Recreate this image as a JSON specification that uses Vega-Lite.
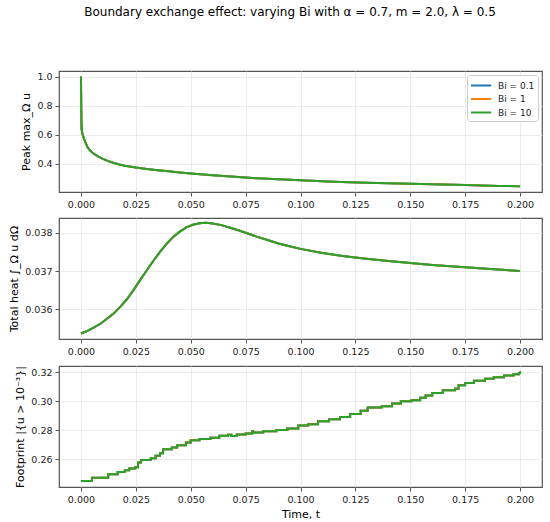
{
  "$schema": "https://vega.github.io/schema/vega-lite/v6.json",
  "padding": {"left": 8, "top": 6, "right": 5, "bottom": 5},
  "background": "white",
  "title": {"text": "Boundary exchange effect: varying Bi with α = 0.7, m = 2.0, λ = 0.5", "fontSize": 12, "font": "DejaVu Sans", "fontWeight": "normal", "anchor": "start", "frame": "bounds", "dx": 76, "offset": 51, "color": "#000"},
  "config": {
    "font": "DejaVu Sans",
    "view": {"stroke": "#555", "strokeWidth": 1.2},
    "axis": {"domain": false, "tickColor": "#555", "tickSize": 4, "labelFontSize": 9.5, "labelColor": "#222", "labelPadding": 3, "titleFontSize": 11, "titleFontWeight": "normal", "titleColor": "#000", "gridColor": "#e6e6e6", "gridWidth": 0.8, "titlePadding": 5},
    "legend": {"labelFontSize": 9, "labelColor": "#222"}
  },
  "datasets": {
    "peak": [
      {"t": 0, "Bi01": 1.0, "Bi1": 1.0, "Bi10": 1.0},
      {"t": 0.0001, "Bi01": 0.85, "Bi1": 0.85, "Bi10": 0.85},
      {"t": 0.0002, "Bi01": 0.70, "Bi1": 0.70, "Bi10": 0.70},
      {"t": 0.0003, "Bi01": 0.63, "Bi1": 0.63, "Bi10": 0.63},
      {"t": 0.0004, "Bi01": 0.67, "Bi1": 0.67, "Bi10": 0.67},
      {"t": 0.0005, "Bi01": 0.62, "Bi1": 0.62, "Bi10": 0.62},
      {"t": 0.0008, "Bi01": 0.60, "Bi1": 0.60, "Bi10": 0.60},
      {"t": 0.0012, "Bi01": 0.58, "Bi1": 0.58, "Bi10": 0.58},
      {"t": 0.002, "Bi01": 0.55, "Bi1": 0.55, "Bi10": 0.55},
      {"t": 0.003, "Bi01": 0.515, "Bi1": 0.515, "Bi10": 0.515},
      {"t": 0.004, "Bi01": 0.495, "Bi1": 0.495, "Bi10": 0.495},
      {"t": 0.005, "Bi01": 0.48, "Bi1": 0.48, "Bi10": 0.48},
      {"t": 0.0065, "Bi01": 0.463, "Bi1": 0.463, "Bi10": 0.463},
      {"t": 0.008, "Bi01": 0.45, "Bi1": 0.45, "Bi10": 0.45},
      {"t": 0.010, "Bi01": 0.434, "Bi1": 0.434, "Bi10": 0.434},
      {"t": 0.0125, "Bi01": 0.419, "Bi1": 0.419, "Bi10": 0.419},
      {"t": 0.015, "Bi01": 0.406, "Bi1": 0.406, "Bi10": 0.406},
      {"t": 0.0175, "Bi01": 0.396, "Bi1": 0.396, "Bi10": 0.396},
      {"t": 0.020, "Bi01": 0.388, "Bi1": 0.388, "Bi10": 0.388},
      {"t": 0.025, "Bi01": 0.375, "Bi1": 0.375, "Bi10": 0.375},
      {"t": 0.030, "Bi01": 0.365, "Bi1": 0.365, "Bi10": 0.365},
      {"t": 0.035, "Bi01": 0.357, "Bi1": 0.357, "Bi10": 0.357},
      {"t": 0.040, "Bi01": 0.349, "Bi1": 0.349, "Bi10": 0.349},
      {"t": 0.045, "Bi01": 0.341, "Bi1": 0.341, "Bi10": 0.341},
      {"t": 0.050, "Bi01": 0.334, "Bi1": 0.334, "Bi10": 0.334},
      {"t": 0.060, "Bi01": 0.322, "Bi1": 0.322, "Bi10": 0.322},
      {"t": 0.070, "Bi01": 0.312, "Bi1": 0.312, "Bi10": 0.312},
      {"t": 0.080, "Bi01": 0.302, "Bi1": 0.302, "Bi10": 0.302},
      {"t": 0.090, "Bi01": 0.294, "Bi1": 0.294, "Bi10": 0.294},
      {"t": 0.100, "Bi01": 0.287, "Bi1": 0.287, "Bi10": 0.287},
      {"t": 0.115, "Bi01": 0.278, "Bi1": 0.278, "Bi10": 0.278},
      {"t": 0.130, "Bi01": 0.271, "Bi1": 0.271, "Bi10": 0.271},
      {"t": 0.145, "Bi01": 0.265, "Bi1": 0.265, "Bi10": 0.265},
      {"t": 0.160, "Bi01": 0.260, "Bi1": 0.260, "Bi10": 0.260},
      {"t": 0.175, "Bi01": 0.255, "Bi1": 0.255, "Bi10": 0.255},
      {"t": 0.190, "Bi01": 0.249, "Bi1": 0.249, "Bi10": 0.249},
      {"t": 0.200, "Bi01": 0.246, "Bi1": 0.246, "Bi10": 0.246}
    ],
    "heat": [
      {"t": 0, "Bi01": 0.03537, "Bi1": 0.03537, "Bi10": 0.03537},
      {"t": 0.003, "Bi01": 0.03544, "Bi1": 0.03544, "Bi10": 0.03544},
      {"t": 0.006, "Bi01": 0.03553, "Bi1": 0.03553, "Bi10": 0.03553},
      {"t": 0.009, "Bi01": 0.03563, "Bi1": 0.03563, "Bi10": 0.03563},
      {"t": 0.012, "Bi01": 0.03576, "Bi1": 0.03576, "Bi10": 0.03576},
      {"t": 0.015, "Bi01": 0.03590, "Bi1": 0.03590, "Bi10": 0.03590},
      {"t": 0.018, "Bi01": 0.03607, "Bi1": 0.03607, "Bi10": 0.03607},
      {"t": 0.021, "Bi01": 0.03627, "Bi1": 0.03627, "Bi10": 0.03627},
      {"t": 0.024, "Bi01": 0.03651, "Bi1": 0.03651, "Bi10": 0.03651},
      {"t": 0.027, "Bi01": 0.03677, "Bi1": 0.03677, "Bi10": 0.03677},
      {"t": 0.030, "Bi01": 0.03702, "Bi1": 0.03702, "Bi10": 0.03702},
      {"t": 0.033, "Bi01": 0.03727, "Bi1": 0.03727, "Bi10": 0.03727},
      {"t": 0.036, "Bi01": 0.03750, "Bi1": 0.03750, "Bi10": 0.03750},
      {"t": 0.039, "Bi01": 0.03771, "Bi1": 0.03771, "Bi10": 0.03771},
      {"t": 0.042, "Bi01": 0.03789, "Bi1": 0.03789, "Bi10": 0.03789},
      {"t": 0.045, "Bi01": 0.03803, "Bi1": 0.03803, "Bi10": 0.03803},
      {"t": 0.048, "Bi01": 0.03814, "Bi1": 0.03814, "Bi10": 0.03814},
      {"t": 0.051, "Bi01": 0.03821, "Bi1": 0.03821, "Bi10": 0.03821},
      {"t": 0.054, "Bi01": 0.03825, "Bi1": 0.03825, "Bi10": 0.03825},
      {"t": 0.057, "Bi01": 0.03826, "Bi1": 0.03826, "Bi10": 0.03826},
      {"t": 0.060, "Bi01": 0.03824, "Bi1": 0.03824, "Bi10": 0.03824},
      {"t": 0.064, "Bi01": 0.03820, "Bi1": 0.03820, "Bi10": 0.03820},
      {"t": 0.068, "Bi01": 0.03813, "Bi1": 0.03813, "Bi10": 0.03813},
      {"t": 0.072, "Bi01": 0.03806, "Bi1": 0.03806, "Bi10": 0.03806},
      {"t": 0.076, "Bi01": 0.03798, "Bi1": 0.03798, "Bi10": 0.03798},
      {"t": 0.080, "Bi01": 0.03790, "Bi1": 0.03790, "Bi10": 0.03790},
      {"t": 0.085, "Bi01": 0.03781, "Bi1": 0.03781, "Bi10": 0.03781},
      {"t": 0.090, "Bi01": 0.03772, "Bi1": 0.03772, "Bi10": 0.03772},
      {"t": 0.095, "Bi01": 0.03765, "Bi1": 0.03765, "Bi10": 0.03765},
      {"t": 0.100, "Bi01": 0.03758, "Bi1": 0.03758, "Bi10": 0.03758},
      {"t": 0.110, "Bi01": 0.03747, "Bi1": 0.03747, "Bi10": 0.03747},
      {"t": 0.120, "Bi01": 0.03739, "Bi1": 0.03739, "Bi10": 0.03739},
      {"t": 0.130, "Bi01": 0.03732, "Bi1": 0.03732, "Bi10": 0.03732},
      {"t": 0.140, "Bi01": 0.03726, "Bi1": 0.03726, "Bi10": 0.03726},
      {"t": 0.150, "Bi01": 0.03721, "Bi1": 0.03721, "Bi10": 0.03721},
      {"t": 0.160, "Bi01": 0.03716, "Bi1": 0.03716, "Bi10": 0.03716},
      {"t": 0.170, "Bi01": 0.03712, "Bi1": 0.03712, "Bi10": 0.03712},
      {"t": 0.180, "Bi01": 0.03708, "Bi1": 0.03708, "Bi10": 0.03708},
      {"t": 0.190, "Bi01": 0.03704, "Bi1": 0.03704, "Bi10": 0.03704},
      {"t": 0.200, "Bi01": 0.03700, "Bi1": 0.03700, "Bi10": 0.03700}
    ],
    "foot": [
      {"t": 0, "Bi01": 0.2448, "Bi1": 0.2448, "Bi10": 0.2448},
      {"t": 0.005, "Bi01": 0.2471, "Bi1": 0.2471, "Bi10": 0.2471},
      {"t": 0.0124, "Bi01": 0.2495, "Bi1": 0.2495, "Bi10": 0.2495},
      {"t": 0.0167, "Bi01": 0.2510, "Bi1": 0.2510, "Bi10": 0.2510},
      {"t": 0.020, "Bi01": 0.2523, "Bi1": 0.2523, "Bi10": 0.2523},
      {"t": 0.022, "Bi01": 0.2534, "Bi1": 0.2534, "Bi10": 0.2534},
      {"t": 0.0247, "Bi01": 0.2543, "Bi1": 0.2543, "Bi10": 0.2543},
      {"t": 0.026, "Bi01": 0.2577, "Bi1": 0.2577, "Bi10": 0.2577},
      {"t": 0.0274, "Bi01": 0.2593, "Bi1": 0.2593, "Bi10": 0.2593},
      {"t": 0.0318, "Bi01": 0.2605, "Bi1": 0.2605, "Bi10": 0.2605},
      {"t": 0.034, "Bi01": 0.2623, "Bi1": 0.2623, "Bi10": 0.2623},
      {"t": 0.036, "Bi01": 0.2640, "Bi1": 0.2640, "Bi10": 0.2640},
      {"t": 0.0374, "Bi01": 0.2668, "Bi1": 0.2668, "Bi10": 0.2668},
      {"t": 0.0414, "Bi01": 0.2680, "Bi1": 0.2680, "Bi10": 0.2680},
      {"t": 0.0438, "Bi01": 0.2696, "Bi1": 0.2696, "Bi10": 0.2696},
      {"t": 0.0478, "Bi01": 0.2714, "Bi1": 0.2714, "Bi10": 0.2714},
      {"t": 0.050, "Bi01": 0.2730, "Bi1": 0.2730, "Bi10": 0.2730},
      {"t": 0.054, "Bi01": 0.2739, "Bi1": 0.2739, "Bi10": 0.2739},
      {"t": 0.059, "Bi01": 0.2748, "Bi1": 0.2748, "Bi10": 0.2748},
      {"t": 0.063, "Bi01": 0.2761, "Bi1": 0.2761, "Bi10": 0.2761},
      {"t": 0.067, "Bi01": 0.2768, "Bi1": 0.2768, "Bi10": 0.2768},
      {"t": 0.0685, "Bi01": 0.2760, "Bi1": 0.2760, "Bi10": 0.2760},
      {"t": 0.071, "Bi01": 0.2770, "Bi1": 0.2770, "Bi10": 0.2770},
      {"t": 0.075, "Bi01": 0.2777, "Bi1": 0.2777, "Bi10": 0.2777},
      {"t": 0.078, "Bi01": 0.2793, "Bi1": 0.2793, "Bi10": 0.2793},
      {"t": 0.0785, "Bi01": 0.2784, "Bi1": 0.2784, "Bi10": 0.2784},
      {"t": 0.083, "Bi01": 0.2793, "Bi1": 0.2793, "Bi10": 0.2793},
      {"t": 0.089, "Bi01": 0.2800, "Bi1": 0.2800, "Bi10": 0.2800},
      {"t": 0.094, "Bi01": 0.2811, "Bi1": 0.2811, "Bi10": 0.2811},
      {"t": 0.099, "Bi01": 0.2832, "Bi1": 0.2832, "Bi10": 0.2832},
      {"t": 0.1035, "Bi01": 0.2840, "Bi1": 0.2840, "Bi10": 0.2840},
      {"t": 0.108, "Bi01": 0.2861, "Bi1": 0.2861, "Bi10": 0.2861},
      {"t": 0.113, "Bi01": 0.2875, "Bi1": 0.2875, "Bi10": 0.2875},
      {"t": 0.118, "Bi01": 0.2890, "Bi1": 0.2890, "Bi10": 0.2890},
      {"t": 0.1226, "Bi01": 0.2911, "Bi1": 0.2911, "Bi10": 0.2911},
      {"t": 0.1274, "Bi01": 0.2934, "Bi1": 0.2934, "Bi10": 0.2934},
      {"t": 0.1306, "Bi01": 0.2957, "Bi1": 0.2957, "Bi10": 0.2957},
      {"t": 0.137, "Bi01": 0.2965, "Bi1": 0.2965, "Bi10": 0.2965},
      {"t": 0.1417, "Bi01": 0.2984, "Bi1": 0.2984, "Bi10": 0.2984},
      {"t": 0.1457, "Bi01": 0.3000, "Bi1": 0.3000, "Bi10": 0.3000},
      {"t": 0.1505, "Bi01": 0.3007, "Bi1": 0.3007, "Bi10": 0.3007},
      {"t": 0.1545, "Bi01": 0.3023, "Bi1": 0.3023, "Bi10": 0.3023},
      {"t": 0.157, "Bi01": 0.3039, "Bi1": 0.3039, "Bi10": 0.3039},
      {"t": 0.160, "Bi01": 0.3057, "Bi1": 0.3057, "Bi10": 0.3057},
      {"t": 0.1648, "Bi01": 0.3075, "Bi1": 0.3075, "Bi10": 0.3075},
      {"t": 0.1704, "Bi01": 0.3086, "Bi1": 0.3086, "Bi10": 0.3086},
      {"t": 0.172, "Bi01": 0.3110, "Bi1": 0.3110, "Bi10": 0.3110},
      {"t": 0.175, "Bi01": 0.3125, "Bi1": 0.3125, "Bi10": 0.3125},
      {"t": 0.179, "Bi01": 0.3141, "Bi1": 0.3141, "Bi10": 0.3141},
      {"t": 0.184, "Bi01": 0.3155, "Bi1": 0.3155, "Bi10": 0.3155},
      {"t": 0.188, "Bi01": 0.3166, "Bi1": 0.3166, "Bi10": 0.3166},
      {"t": 0.1927, "Bi01": 0.3177, "Bi1": 0.3177, "Bi10": 0.3177},
      {"t": 0.197, "Bi01": 0.3186, "Bi1": 0.3186, "Bi10": 0.3186},
      {"t": 0.1995, "Bi01": 0.3195, "Bi1": 0.3195, "Bi10": 0.3195},
      {"t": 0.200, "Bi01": 0.3205, "Bi1": 0.3205, "Bi10": 0.3205}
    ]
  },
  "spacing": 7,
  "resolve": {"scale": {"color": "independent", "x": "independent", "y": "independent"}},
  "vconcat": [
    {
      "width": 483, "height": 121,
      "data": {"name": "peak"},
      "transform": [{"fold": ["Bi01", "Bi1", "Bi10"], "as": ["Bi", "v"]}],
      "mark": {"type": "line", "strokeWidth": 2, "clip": true},
      "encoding": {
        "x": {"field": "t", "type": "quantitative", "scale": {"domain": [-0.01, 0.21], "nice": false, "zero": false}, "axis": {"values": [0, 0.025, 0.05, 0.075, 0.1, 0.125, 0.15, 0.175, 0.2], "format": ".3f", "title": null}},
        "y": {"field": "v", "type": "quantitative", "scale": {"domain": [0.207, 1.038], "nice": false, "zero": false}, "axis": {"values": [0.4, 0.6, 0.8, 1.0], "format": ".1f", "title": "Peak max_Ω u"}},
        "color": {"field": "Bi", "type": "nominal", "scale": {"domain": ["Bi01", "Bi1", "Bi10"], "range": ["#1f77b4", "#ff7f0e", "#2ca02c"]},
          "legend": {"title": null, "orient": "top-right", "offset": 4, "symbolType": "M-1,0H2.1", "symbolSize": 169, "symbolStrokeWidth": 2, "fillColor": "white", "strokeColor": "#cccccc", "cornerRadius": 3, "padding": 3, "rowPadding": 0.5, "labelOffset": 13,
            "labelExpr": "datum.label == 'Bi01' ? 'Bi = 0.1' : datum.label == 'Bi1' ? 'Bi = 1' : 'Bi = 10'"}}
      }
    },
    {
      "width": 483, "height": 121,
      "data": {"name": "heat"},
      "transform": [{"fold": ["Bi01", "Bi1", "Bi10"], "as": ["Bi", "v"]}],
      "mark": {"type": "line", "strokeWidth": 2, "clip": true},
      "encoding": {
        "x": {"field": "t", "type": "quantitative", "scale": {"domain": [-0.01, 0.21], "nice": false, "zero": false}, "axis": {"values": [0, 0.025, 0.05, 0.075, 0.1, 0.125, 0.15, 0.175, 0.2], "format": ".3f", "title": null}},
        "y": {"field": "v", "type": "quantitative", "scale": {"domain": [0.035226, 0.038386], "nice": false, "zero": false}, "axis": {"values": [0.036, 0.037, 0.038], "format": ".3f", "title": "Total heat ∫_Ω u dΩ"}},
        "color": {"field": "Bi", "type": "nominal", "scale": {"domain": ["Bi01", "Bi1", "Bi10"], "range": ["#1f77b4", "#ff7f0e", "#2ca02c"]}, "legend": null}
      }
    },
    {
      "width": 483, "height": 121,
      "data": {"name": "foot"},
      "transform": [{"fold": ["Bi01", "Bi1", "Bi10"], "as": ["Bi", "v"]}],
      "mark": {"type": "line", "strokeWidth": 2, "clip": true, "interpolate": "step-after"},
      "encoding": {
        "x": {"field": "t", "type": "quantitative", "scale": {"domain": [-0.01, 0.21], "nice": false, "zero": false}, "axis": {"values": [0, 0.025, 0.05, 0.075, 0.1, 0.125, 0.15, 0.175, 0.2], "format": ".3f", "title": "Time, t"}},
        "y": {"field": "v", "type": "quantitative", "scale": {"domain": [0.2407, 0.3243], "nice": false, "zero": false}, "axis": {"values": [0.26, 0.28, 0.30, 0.32], "format": ".2f", "title": "Footprint |{u > 10⁻³}|"}},
        "color": {"field": "Bi", "type": "nominal", "scale": {"domain": ["Bi01", "Bi1", "Bi10"], "range": ["#1f77b4", "#ff7f0e", "#2ca02c"]}, "legend": null}
      }
    }
  ]
}
